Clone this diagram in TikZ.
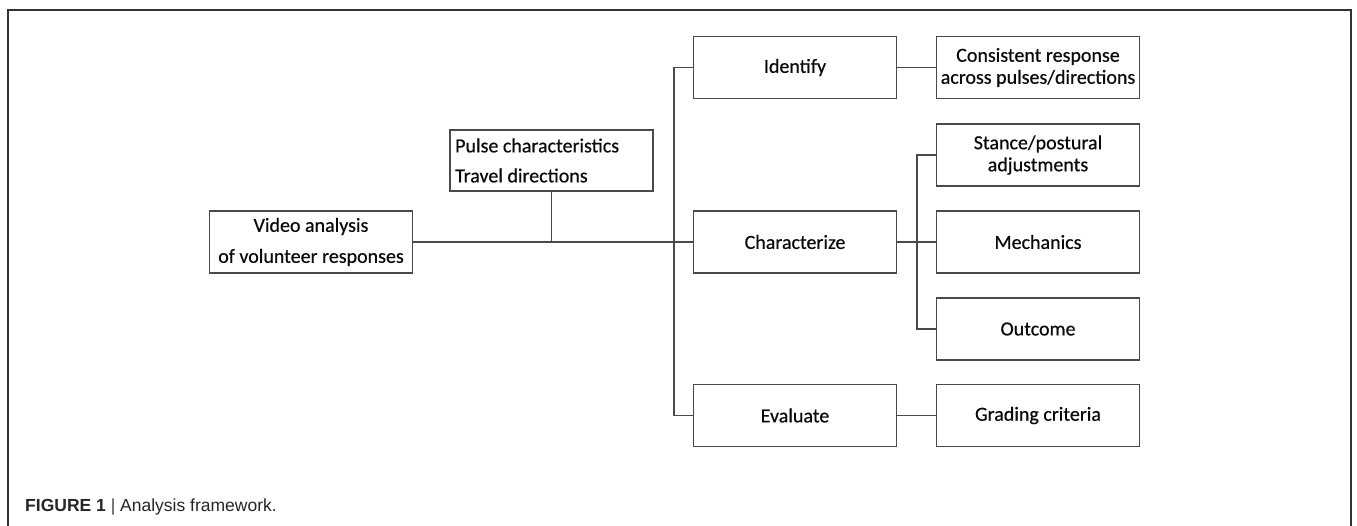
\documentclass[tikz,border=0pt]{standalone}
\usepackage{fontspec}
\setmainfont{Carlito}[FakeBold=0.5]
\newfontfamily\capfont{Liberation Sans}
\definecolor{boxline}{HTML}{4A4A4A}
\definecolor{txt}{HTML}{0A0A0A}
\begin{document}
\begin{tikzpicture}[x=1pt,y=-1pt,
  box/.style={draw=boxline, line width=1.3pt, rectangle, minimum width=203pt, minimum height=62pt,
    inner sep=0pt, align=center, text=txt, font=\fontsize{20}{22}\selectfont},
  link/.style={draw=boxline, line width=1.3pt}]
\useasboundingbox (0,0) rectangle (1357,525);
\draw[line width=1.5pt, draw=black!80] (8,526) -- (8,10) -- (1351,10) -- (1351,526);
% nodes
\node[box, font=\fontsize{20}{31}\selectfont] (video) at (311,242) {Video analysis\\of volunteer responses};
\node[box, minimum height=61pt] (pulse) at (551.5,160.5) {};
\node[anchor=west, align=left, text=txt, inner sep=0pt, font=\fontsize{20}{30}\selectfont] (pulsetxt) at (455,160.5) {Pulse characteristics\\Travel directions};
\node[box] (identify) at (795,67.5) {Identify};
\node[box] (consistent) at (1038,67.5) {Consistent response\\across pulses/directions};
\node[box] (stance) at (1038,155) {Stance/postural\\adjustments};
\node[box] (charact) at (795,242) {Characterize};
\node[box] (mech) at (1038,242) {Mechanics};
\node[box] (outcome) at (1038,329) {Outcome};
\node[box] (evaluate) at (795,415.5) {Evaluate};
\node[box] (grading) at (1038,415.5) {Grading criteria};
\coordinate (b1) at (674,242);
\coordinate (b2) at (917,242);
% connectors
\draw[link] (video.east) -- (charact.west);
\draw[link] (pulse.south) -- (pulse.south |- video.east);
\draw[link] (identify.west) -| (b1) |- (evaluate.west);
\draw[link] (identify.east) -- (consistent.west);
\draw[link] (charact.east) -- (mech.west);
\draw[link] (evaluate.east) -- (grading.west);
\draw[link] (stance.west) -| (b2) |- (outcome.west);
% caption
\node[anchor=base west, inner sep=0pt, text=black!85, font=\capfont\fontsize{17.5}{20}\selectfont] (caption) at (25,511)
  {\textbf{FIGURE 1} {\color{black!75}|} Analysis framework.};
\end{tikzpicture}
\end{document}
